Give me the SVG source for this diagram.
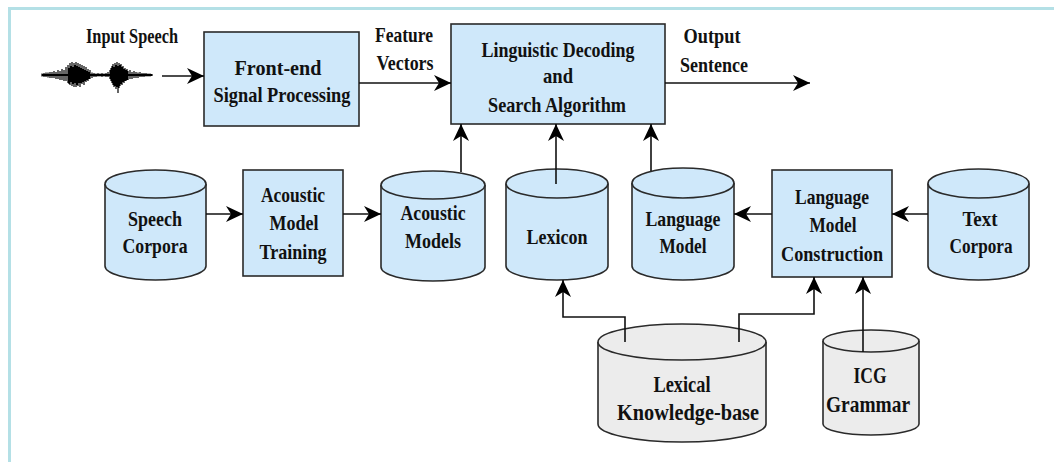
<svg xmlns="http://www.w3.org/2000/svg" width="1054" height="462" viewBox="0 0 1054 462">
<style>
.box{fill:#cfe8fa;stroke:#2a2a2a;stroke-width:1.6}
.cyl{fill:#cfe8fa;stroke:#2a2a2a;stroke-width:1.6}
.cylg{fill:#ececec;stroke:#2a2a2a;stroke-width:1.6}
text{font-family:'Liberation Serif','Times New Roman',Tinos,'DejaVu Serif',serif;font-weight:700;font-size:22px;fill:#111;text-anchor:middle}
.tb{font-size:24px}
.ln{fill:none;stroke:#111;stroke-width:1.6}
.frame{fill:none;stroke:#b4e0e6;stroke-width:3}
</style>
<defs>
<marker id="ah" viewBox="-18 -9 19 18" refX="0" refY="0" markerWidth="19" markerHeight="18" markerUnits="userSpaceOnUse" orient="auto">
<path d="M0,0 L-17,-8 L-12,0 L-17,8 z" fill="#000"/>
</marker>
</defs>
<rect width="1054" height="462" fill="#fff"/>
<path class="frame" d="M9.5,462 V8.5 H1054"/>

<g id="input-speech">
<text x="132" y="43" textLength="92" lengthAdjust="spacingAndGlyphs" style="font-size:20px">Input Speech</text>
<path d="M42,75 H152" stroke="#000" stroke-width="2"/>
<path stroke="#000" stroke-width="1.2" fill="none" d="M42,73.5V76.5M44,73V77M46,72.5V77M48,72.5V77.5M50,72V78M52,72V78M54,71V78M56,72V79M58,70V79M60,71V80M62,69V80M64,70V81M66,67V81M68,65V83M69,68V84M70,63V85M71,66V82M72,62V86M73,67V84M74,63V87M75,65V83M76,62V87M77,66V85M78,63V86M79,67V83M80,64V87M81,68V83M82,65V84M83,69V82M84,66V85M85,70V81M86,67V82M87,71V80M88,69V81M89,72V79M90,70V79M92,72.5V78M94,73V77M96,73.5V77M98,73V76.5M100,73.5V76.5M102,73V77M104,73.5V76.5M106,73V77M108,72V77M110,70V79M111,68V81M112,66V83M113,64V85M114,67V87M115,63V86M116,65V89M117,62V87M118,66V93M119,63V88M120,65V86M121,64V84M122,67V85M123,66V82M124,69V83M125,68V81M126,70V81M127,69V80M128,71V80M130,70V79M132,72V79M134,71V78M136,72V78M138,72.5V78M140,72V77M142,73V77M144,73V77M146,73V76.5M148,73.5V76.5M150,73.5V76.5M152,74V76"/>
</g>

<g id="front-end">
<rect class="box" x="204" y="32" width="155" height="94"/>
<text x="278" y="75" textLength="87" lengthAdjust="spacingAndGlyphs">Front-end</text>
<text x="282" y="102" textLength="137" lengthAdjust="spacingAndGlyphs">Signal Processing</text>
</g>

<g id="feature-vectors-label">
<text x="404" y="42" textLength="58" lengthAdjust="spacingAndGlyphs">Feature</text>
<text x="405" y="70" textLength="57" lengthAdjust="spacingAndGlyphs">Vectors</text>
</g>

<g id="linguistic-decoding">
<rect class="box" x="451" y="24" width="214" height="100"/>
<text x="558" y="57" textLength="153" lengthAdjust="spacingAndGlyphs">Linguistic Decoding</text>
<text x="558" y="83" textLength="30" lengthAdjust="spacingAndGlyphs">and</text>
<text x="557" y="112" textLength="138" lengthAdjust="spacingAndGlyphs">Search Algorithm</text>
</g>

<g id="output-sentence-label">
<text x="712" y="43" textLength="57" lengthAdjust="spacingAndGlyphs">Output</text>
<text x="714" y="72" textLength="68" lengthAdjust="spacingAndGlyphs">Sentence</text>
</g>

<g id="speech-corpora">
<path class="cyl" d="M105,184 V266 A50.5,14 0 0 0 206,266 V184"/>
<ellipse class="cyl" cx="155.5" cy="184" rx="50.5" ry="14"/>
<text x="155" y="226" textLength="54" lengthAdjust="spacingAndGlyphs">Speech</text>
<text x="155" y="253" textLength="65" lengthAdjust="spacingAndGlyphs">Corpora</text>
</g>

<g id="acoustic-model-training">
<rect class="box" x="243" y="170" width="100" height="106"/>
<text x="293" y="202" textLength="64" lengthAdjust="spacingAndGlyphs">Acoustic</text>
<text x="294" y="230" textLength="49" lengthAdjust="spacingAndGlyphs">Model</text>
<text x="293" y="259" textLength="67" lengthAdjust="spacingAndGlyphs">Training</text>
</g>

<g id="acoustic-models">
<path class="cyl" d="M381,185 V267 A52,14 0 0 0 485,267 V185"/>
<ellipse class="cyl" cx="433" cy="185" rx="52" ry="14"/>
<text x="433" y="220" textLength="65" lengthAdjust="spacingAndGlyphs">Acoustic</text>
<text x="433" y="248" textLength="56" lengthAdjust="spacingAndGlyphs">Models</text>
</g>

<g id="lexicon">
<path class="cyl" d="M506,183.5 V266 A51,14 0 0 0 608,266 V183.5"/>
<ellipse class="cyl" cx="557" cy="183.5" rx="51" ry="14.5"/>
<text x="557" y="244" textLength="61" lengthAdjust="spacingAndGlyphs">Lexicon</text>
</g>

<g id="language-model">
<path class="cyl" d="M632,183 V266 A51,14 0 0 0 734,266 V183"/>
<ellipse class="cyl" cx="683" cy="183" rx="51" ry="15"/>
<text x="683" y="226" textLength="75" lengthAdjust="spacingAndGlyphs">Language</text>
<text x="683" y="253" textLength="47" lengthAdjust="spacingAndGlyphs">Model</text>
</g>

<g id="language-model-construction">
<rect class="box" x="772" y="170" width="120" height="107"/>
<text x="832" y="204" textLength="74" lengthAdjust="spacingAndGlyphs">Language</text>
<text x="833" y="232" textLength="47" lengthAdjust="spacingAndGlyphs">Model</text>
<text x="832" y="261" textLength="102" lengthAdjust="spacingAndGlyphs">Construction</text>
</g>

<g id="text-corpora">
<path class="cyl" d="M928,183.5 V266 A50.5,14 0 0 0 1029,266 V183.5"/>
<ellipse class="cyl" cx="978.5" cy="183.5" rx="50.5" ry="14.5"/>
<text x="980" y="226" textLength="35" lengthAdjust="spacingAndGlyphs">Text</text>
<text x="981" y="253" textLength="63" lengthAdjust="spacingAndGlyphs">Corpora</text>
</g>

<g id="lexical-knowledge-base">
<path class="cylg" d="M598,342 V424 A84,18 0 0 0 766,424 V342"/>
<ellipse class="cylg" cx="682" cy="342" rx="84" ry="18"/>
<text class="tb" x="682" y="392" textLength="57" lengthAdjust="spacingAndGlyphs">Lexical</text>
<text class="tb" x="688" y="420" textLength="142" lengthAdjust="spacingAndGlyphs">Knowledge-base</text>
</g>

<g id="icg-grammar">
<path class="cylg" d="M823,341 V424 A48,11 0 0 0 919,424 V341"/>
<ellipse class="cylg" cx="871" cy="341" rx="48" ry="11"/>
<text class="tb" x="870" y="383" textLength="33" lengthAdjust="spacingAndGlyphs">ICG</text>
<text class="tb" x="868" y="412" textLength="84" lengthAdjust="spacingAndGlyphs">Grammar</text>
</g>

<g id="connectors">
<path class="ln" d="M162,76 H204" marker-end="url(#ah)"/>
<path class="ln" d="M359,83 H451" marker-end="url(#ah)"/>
<path class="ln" d="M665,83 H810" marker-end="url(#ah)"/>
<path class="ln" d="M461,172 V124" marker-end="url(#ah)"/>
<path class="ln" d="M556,184 V124" marker-end="url(#ah)"/>
<path class="ln" d="M651,171 V124" marker-end="url(#ah)"/>
<path class="ln" d="M206,214 H243" marker-end="url(#ah)"/>
<path class="ln" d="M343,214 H381" marker-end="url(#ah)"/>
<path class="ln" d="M772,214 H734" marker-end="url(#ah)"/>
<path class="ln" d="M928,214 H892" marker-end="url(#ah)"/>
<path class="ln" d="M625,342 V317 H563 V280" marker-end="url(#ah)"/>
<path class="ln" d="M739,342 V314 H814 V277" marker-end="url(#ah)"/>
<path class="ln" d="M863,352 V277" marker-end="url(#ah)"/>
</g>
</svg>
